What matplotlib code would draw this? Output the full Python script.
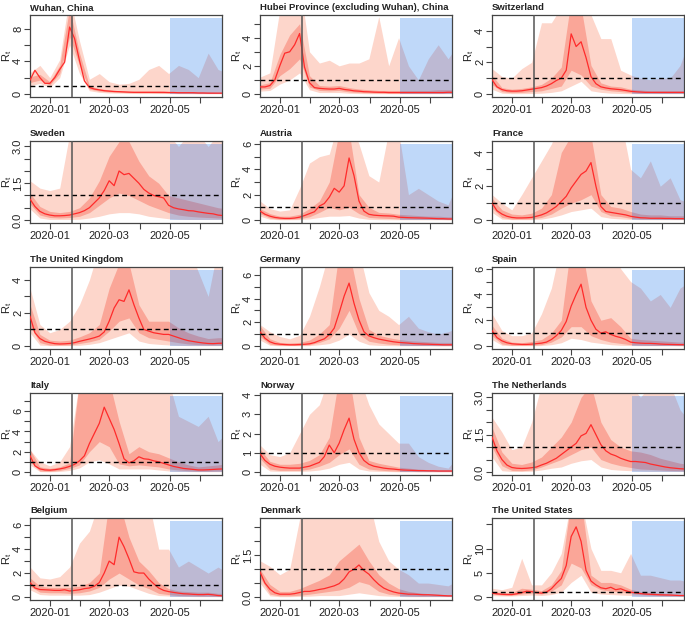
import numpy as np
import pandas as pd
import matplotlib
matplotlib.use('Agg')
import matplotlib.pyplot as plt
import matplotlib.dates as mdates
from matplotlib import font_manager as fm
from matplotlib.patches import Rectangle

# ---------------- font choice ----------------
try:
    fm.findfont(fm.FontProperties(family='Liberation Sans Narrow'), fallback_to_default=False)
    FAMILY = 'Liberation Sans Narrow'
    NARROW = True
except Exception:
    FAMILY = 'Liberation Sans'
    NARROW = False
plt.rcParams['font.family'] = [FAMILY, 'DejaVu Sans']
plt.rcParams['mathtext.fontset'] = 'custom'
plt.rcParams['mathtext.rm'] = FAMILY
plt.rcParams['mathtext.it'] = FAMILY

TICK_FS = 9.4 if NARROW else 8.0
TITLE_FS = 8.0 if NARROW else 6.8
YLAB_FS = 9.0 if NARROW else 8.0

# ---------------- data ----------------
MED_DATES = pd.date_range('2019-12-12', periods=40, freq='5D')
BAND_DATES = pd.date_range('2019-12-12', periods=21, freq='10D')
X_START = pd.Timestamp('2019-12-12')
X_END = pd.Timestamp('2020-06-23')
LOCKDOWN = pd.Timestamp('2020-01-23')
SHADE_START = pd.Timestamp('2020-05-01')
XTICK_DATES = ['2020-01-01', '2020-02-01', '2020-03-01', '2020-04-01', '2020-05-01', '2020-06-01']
XTICK_LABELS = ['2020-01', '', '2020-03', '', '2020-05', '']

TITLES = ['Wuhan, China', 'Hubei Province (excluding Wuhan), China', 'Switzerland',
          'Sweden', 'Austria', 'France',
          'The United Kingdom', 'Germany', 'Spain',
          'Italy', 'Norway', 'The Netherlands',
          'Belgium', 'Denmark', 'The United States']

YMAX = [9.3, 5.4, 4.8, 3.1, 6.0, 4.5, 4.6, 6.4, 5.9, 7.5, 3.95, 3.05, 6.35, 2.73, 15.7]
YTICKS = [[0, 2, 4, 6, 8], [0, 1, 2, 3, 4, 5], [0, 1, 2, 3, 4],
          [0, 0.5, 1, 1.5, 2, 2.5, 3], [0, 1, 2, 3, 4, 5, 6], [0, 1, 2, 3, 4],
          [0, 1, 2, 3, 4], [0, 1, 2, 3, 4, 5, 6], [0, 1, 2, 3, 4, 5, 6],
          [0, 1, 2, 3, 4, 5, 6, 7], [0, 1, 2, 3, 4], [0, 0.5, 1, 1.5, 2, 2.5, 3],
          [0, 1, 2, 3, 4, 5, 6], [0, 0.5, 1, 1.5, 2, 2.5], [0, 5, 10, 15]]
YTICKLABELS = [['0', '', '4', '', '8'], ['0', '', '2', '', '4', ''], ['0', '', '2', '', '4'],
               ['0.0', '', '', '1.5', '', '', '3.0'], ['0', '', '2', '', '4', '', '6'], ['0', '', '2', '', '4'],
               ['0', '', '2', '', '4'], ['0', '', '2', '', '4', '', '6'], ['0', '', '2', '', '4', '', '6'],
               ['0', '', '2', '', '4', '', '6', ''], ['0', '1', '2', '3', '4'], ['0.0', '', '', '1.5', '', '', '3.0'],
               ['0', '', '2', '', '4', '', '6'], ['0.0', '', '', '1.5', '', ''], ['0', '5', '10', '']]

# Wuhan
WUH_MED = [1.7, 2.9, 2.0, 1.3, 1.3, 2.0, 3.0, 3.9, 8.2, 6.8, 4.1, 1.6, 0.8, 0.6, 0.5, 0.4, 0.35, 0.3, 0.28, 0.25,
           0.22, 0.2, 0.2, 0.2, 0.2, 0.2, 0.2, 0.2, 0.18, 0.18, 0.15, 0.15, 0.15, 0.15, 0.12, 0.12, 0.1, 0.1, 0.1, 0.1]
WUH_L50 = [1.4, 1.7, 1.1, 2.5, 7.0, 3.5, 0.6, 0.35, 0.25, 0.2, 0.15, 0.15, 0.15, 0.12, 0.1, 0.1, 0.1, 0.08, 0.07, 0.06, 0.06]
WUH_H50 = [2.1, 2.4, 1.5, 3.5, 10.5, 5.0, 1.0, 0.65, 0.5, 0.4, 0.35, 0.35, 0.35, 0.35, 0.3, 0.3, 0.3, 0.25, 0.25, 0.2, 0.2]
WUH_L95 = [1.0, 1.3, 0.8, 2.0, 6.0, 2.5, 0.4, 0.2, 0.12, 0.1, 0.08, 0.05, 0.05, 0.05, 0.05, 0.03, 0.03, 0.02, 0.02, 0.02, 0.02]
WUH_H95 = [2.6, 3.5, 2.0, 4.2, 12.0, 6.5, 1.8, 2.5, 1.5, 1.2, 1.3, 1.8, 3.0, 3.5, 2.5, 3.5, 3.0, 2.0, 5.0, 3.0, 2.5]
# Hubei
HUB_MED = [0.5, 0.5, 0.6, 1.0, 2.0, 2.9, 3.0, 3.5, 4.3, 1.9, 0.8, 0.45, 0.4, 0.37, 0.35, 0.35, 0.4, 0.32, 0.28, 0.22,
           0.2, 0.16, 0.15, 0.13, 0.12, 0.12, 0.1, 0.1, 0.1, 0.1, 0.1, 0.1, 0.1, 0.1, 0.1, 0.1, 0.1, 0.1, 0.12, 0.12]
HUB_L50 = [0.35, 0.4, 1.3, 1.8, 2.5, 0.5, 0.25, 0.22, 0.25, 0.15, 0.1, 0.08, 0.06, 0.05, 0.05, 0.05, 0.05, 0.05, 0.05, 0.05, 0.05]
HUB_H50 = [0.65, 0.8, 2.8, 4.2, 5.0, 1.3, 0.6, 0.55, 0.6, 0.45, 0.35, 0.3, 0.25, 0.25, 0.25, 0.25, 0.25, 0.25, 0.3, 0.3, 0.3]
HUB_L95 = [0.2, 0.25, 0.7, 1.0, 1.5, 0.3, 0.1, 0.1, 0.1, 0.05, 0.03, 0.02, 0.02, 0.02, 0.02, 0.02, 0.02, 0.02, 0.02, 0.02, 0.02]
HUB_H95 = [1.2, 1.5, 6.0, 8.0, 8.0, 3.0, 2.2, 2.4, 2.0, 2.2, 2.2, 2.5, 5.5, 2.0, 4.0, 2.0, 1.0, 2.5, 3.5, 2.5, 3.5]
# Switzerland
SUI_MED = [0.9, 0.45, 0.28, 0.2, 0.18, 0.18, 0.2, 0.25, 0.3, 0.35, 0.4, 0.5, 0.65, 0.85, 1.0, 1.5, 3.8, 3.0, 3.3, 2.3,
           1.1, 0.65, 0.45, 0.38, 0.33, 0.3, 0.27, 0.22, 0.17, 0.14, 0.12, 0.1, 0.1, 0.1, 0.1, 0.1, 0.1, 0.1, 0.1, 0.1]
SUI_L50 = [0.6, 0.15, 0.08, 0.1, 0.15, 0.2, 0.35, 0.5, 1.5, 1.2, 0.5, 0.3, 0.2, 0.15, 0.08, 0.05, 0.05, 0.04, 0.04, 0.04, 0.04]
SUI_H50 = [1.2, 0.4, 0.3, 0.35, 0.45, 0.6, 1.0, 1.7, 6.0, 5.5, 1.8, 0.7, 0.5, 0.45, 0.3, 0.25, 0.2, 0.2, 0.2, 0.2, 0.2]
SUI_L95 = [0.3, 0.05, 0.02, 0.02, 0.03, 0.05, 0.1, 0.2, 0.5, 0.8, 0.2, 0.1, 0.05, 0.03, 0.02, 0.02, 0.02, 0.02, 0.02, 0.02, 0.02]
SUI_H95 = [1.6, 1.1, 1.0, 1.6, 2.0, 4.5, 4.5, 5.5, 8.0, 8.0, 5.0, 3.5, 3.5, 1.5, 1.2, 1.0, 0.9, 1.0, 1.0, 1.8, 3.5]
# Sweden
SWE_MED = [0.85, 0.55, 0.35, 0.25, 0.2, 0.17, 0.17, 0.18, 0.2, 0.25, 0.3, 0.38, 0.5, 0.7, 0.9, 1.2, 1.6, 1.4, 2.0, 1.85,
           1.9, 1.7, 1.5, 1.25, 1.1, 1.0, 0.95, 0.9, 0.6, 0.5, 0.45, 0.42, 0.38, 0.37, 0.33, 0.3, 0.27, 0.25, 0.2, 0.18]
SWE_L50 = [0.65, 0.2, 0.1, 0.08, 0.1, 0.15, 0.3, 0.6, 0.9, 1.1, 1.0, 0.8, 0.6, 0.45, 0.3, 0.2, 0.15, 0.12, 0.1, 0.08, 0.08]
SWE_H50 = [1.1, 0.55, 0.35, 0.3, 0.35, 0.5, 0.9, 1.6, 2.6, 3.2, 3.2, 2.4, 1.8, 1.5, 1.0, 0.9, 0.8, 0.7, 0.6, 0.5, 0.45]
SWE_L95 = [0.45, 0.08, 0.02, 0.02, 0.02, 0.03, 0.08, 0.15, 0.25, 0.3, 0.3, 0.25, 0.15, 0.1, 0.05, 0.03, 0.02, 0.02, 0.02, 0.02, 0.02]
SWE_H95 = [1.6, 1.3, 1.2, 1.3, 3.5, 4.0, 4.0, 4.0, 4.0, 4.0, 4.0, 4.0, 3.5, 3.5, 3.5, 3.0, 3.5, 3.5, 3.0, 3.5, 3.5]
# Austria
AUT_MED = [0.7, 0.45, 0.3, 0.2, 0.15, 0.12, 0.12, 0.15, 0.22, 0.35, 0.5, 0.65, 1.1, 1.3, 1.8, 2.5, 2.2, 2.7, 4.9, 3.5,
           1.5, 0.7, 0.45, 0.38, 0.35, 0.33, 0.32, 0.3, 0.22, 0.2, 0.18, 0.17, 0.16, 0.15, 0.14, 0.12, 0.1, 0.1, 0.08, 0.08]
AUT_L50 = [0.5, 0.15, 0.05, 0.05, 0.1, 0.25, 0.6, 1.0, 0.8, 1.0, 0.5, 0.2, 0.15, 0.12, 0.08, 0.07, 0.06, 0.05, 0.04, 0.03, 0.03]
AUT_H50 = [0.9, 0.5, 0.3, 0.3, 0.45, 0.9, 1.5, 3.0, 7.0, 7.0, 2.0, 1.0, 0.6, 0.55, 0.45, 0.4, 0.35, 0.3, 0.3, 0.25, 0.25]
AUT_L95 = [0.3, 0.05, 0.02, 0.02, 0.03, 0.08, 0.2, 0.3, 0.3, 0.35, 0.15, 0.05, 0.03, 0.02, 0.02, 0.02, 0.02, 0.02, 0.02, 0.02, 0.02]
AUT_H95 = [1.5, 0.9, 0.7, 0.8, 2.5, 4.5, 5.0, 5.2, 8.0, 8.0, 6.0, 3.5, 3.0, 7.0, 7.0, 2.0, 2.5, 2.0, 1.5, 1.2, 3.0]
# France
FRA_MED = [1.0, 0.55, 0.35, 0.22, 0.15, 0.12, 0.12, 0.13, 0.15, 0.22, 0.3, 0.42, 0.6, 0.8, 1.1, 1.4, 1.9, 2.3, 2.7, 2.9,
           3.4, 2.0, 0.8, 0.5, 0.45, 0.4, 0.35, 0.3, 0.22, 0.17, 0.13, 0.12, 0.1, 0.1, 0.1, 0.09, 0.09, 0.08, 0.08, 0.08]
FRA_L50 = [0.7, 0.15, 0.05, 0.05, 0.06, 0.15, 0.35, 0.7, 1.0, 1.2, 1.5, 0.5, 0.25, 0.2, 0.1, 0.06, 0.05, 0.04, 0.04, 0.03, 0.03]
FRA_H50 = [1.3, 0.6, 0.35, 0.3, 0.4, 0.7, 1.5, 4.0, 5.0, 5.0, 5.0, 1.5, 0.8, 0.7, 0.5, 0.35, 0.3, 0.3, 0.25, 0.25, 0.25]
FRA_L95 = [0.45, 0.05, 0.02, 0.02, 0.02, 0.05, 0.15, 0.3, 0.5, 0.6, 0.7, 0.2, 0.1, 0.06, 0.03, 0.02, 0.02, 0.02, 0.02, 0.02, 0.02]
FRA_H95 = [1.5, 1.0, 0.6, 1.5, 2.5, 3.5, 4.5, 6.0, 6.0, 6.0, 6.0, 6.0, 6.0, 6.0, 3.0, 2.5, 3.5, 2.0, 2.5, 1.2, 1.0]
# United Kingdom
GBR_MED = [1.8, 0.8, 0.45, 0.28, 0.2, 0.14, 0.12, 0.13, 0.15, 0.2, 0.28, 0.35, 0.42, 0.5, 0.6, 0.85, 1.5, 2.3, 2.8, 2.7,
           3.4, 2.5, 1.7, 1.0, 0.9, 0.8, 0.75, 0.7, 0.7, 0.6, 0.5, 0.4, 0.32, 0.27, 0.22, 0.18, 0.15, 0.14, 0.16, 0.17]
GBR_L50 = [1.2, 0.2, 0.05, 0.05, 0.06, 0.15, 0.25, 0.4, 0.9, 1.5, 1.7, 0.8, 0.5, 0.4, 0.3, 0.2, 0.12, 0.08, 0.06, 0.06, 0.06]
GBR_H50 = [2.5, 0.7, 0.35, 0.3, 0.35, 0.55, 0.8, 1.3, 3.5, 5.0, 5.0, 2.5, 1.5, 1.5, 1.5, 1.1, 0.8, 0.6, 0.45, 0.5, 0.5]
GBR_L95 = [0.8, 0.05, 0.02, 0.02, 0.02, 0.04, 0.1, 0.2, 0.4, 0.6, 0.8, 0.3, 0.15, 0.1, 0.06, 0.04, 0.02, 0.02, 0.02, 0.02, 0.02]
GBR_H95 = [3.5, 1.3, 0.8, 1.0, 1.5, 2.5, 4.0, 6.0, 6.0, 6.0, 6.0, 6.0, 6.0, 6.0, 6.0, 5.0, 6.0, 4.5, 3.0, 6.0, 5.0]
# Germany
GER_MED = [1.2, 0.65, 0.35, 0.2, 0.15, 0.12, 0.1, 0.1, 0.12, 0.14, 0.18, 0.28, 0.45, 0.6, 0.95, 1.5, 2.8, 4.2, 5.3, 3.6,
           2.2, 1.2, 0.85, 0.7, 0.58, 0.5, 0.42, 0.35, 0.3, 0.27, 0.24, 0.2, 0.18, 0.16, 0.15, 0.13, 0.12, 0.1, 0.1, 0.1]
GER_L50 = [0.8, 0.15, 0.05, 0.04, 0.05, 0.1, 0.3, 0.6, 1.5, 3.0, 1.0, 0.4, 0.25, 0.15, 0.1, 0.07, 0.05, 0.04, 0.03, 0.03, 0.03]
GER_H50 = [1.7, 0.6, 0.3, 0.25, 0.3, 0.5, 1.0, 1.8, 8.0, 8.0, 4.0, 1.4, 0.9, 0.7, 0.55, 0.45, 0.4, 0.35, 0.3, 0.3, 0.3]
GER_L95 = [0.5, 0.05, 0.02, 0.02, 0.02, 0.03, 0.1, 0.2, 0.5, 1.0, 0.4, 0.1, 0.05, 0.03, 0.02, 0.02, 0.02, 0.02, 0.02, 0.02, 0.02]
GER_H95 = [1.8, 1.2, 0.8, 0.6, 0.9, 2.5, 5.0, 8.0, 8.0, 8.0, 8.0, 4.5, 3.0, 2.5, 1.8, 2.5, 1.5, 1.2, 1.0, 1.2, 1.5]
# Spain
ESP_MED = [1.2, 0.65, 0.4, 0.25, 0.17, 0.14, 0.12, 0.12, 0.14, 0.18, 0.22, 0.3, 0.5, 0.8, 1.2, 1.9, 3.1, 4.0, 4.8, 3.0,
           2.0, 1.3, 1.0, 1.1, 0.9, 0.75, 0.65, 0.5, 0.3, 0.25, 0.22, 0.2, 0.2, 0.18, 0.15, 0.13, 0.12, 0.11, 0.1, 0.1]
ESP_L50 = [0.8, 0.15, 0.05, 0.04, 0.05, 0.1, 0.3, 0.7, 1.5, 1.5, 0.8, 0.5, 0.3, 0.2, 0.1, 0.07, 0.05, 0.04, 0.04, 0.03, 0.03]
ESP_H50 = [1.6, 0.6, 0.3, 0.25, 0.35, 0.5, 1.0, 2.0, 8.0, 8.0, 3.5, 2.0, 2.2, 1.5, 0.6, 0.5, 0.45, 0.4, 0.35, 0.3, 0.3]
ESP_L95 = [0.5, 0.05, 0.02, 0.02, 0.02, 0.03, 0.1, 0.25, 0.6, 0.5, 0.3, 0.2, 0.1, 0.05, 0.03, 0.02, 0.02, 0.02, 0.02, 0.02, 0.02]
ESP_H95 = [2.5, 1.2, 0.8, 0.8, 1.0, 2.5, 4.5, 8.0, 8.0, 8.0, 8.0, 8.0, 8.0, 6.0, 5.0, 4.5, 3.5, 4.0, 3.0, 4.5, 5.0]
# Italy
ITA_MED = [1.6, 0.6, 0.3, 0.2, 0.18, 0.22, 0.3, 0.4, 0.55, 0.75, 1.1, 1.6, 2.8, 3.8, 4.8, 6.4, 5.3, 4.2, 2.8, 1.3,
           0.9, 1.1, 1.5, 1.3, 1.25, 1.1, 1.0, 0.85, 0.7, 0.55, 0.45, 0.35, 0.3, 0.25, 0.2, 0.2, 0.22, 0.25, 0.28, 0.3]
ITA_L50 = [1.0, 0.1, 0.06, 0.15, 0.35, 0.7, 2.0, 3.0, 2.5, 0.8, 0.6, 0.7, 0.6, 0.5, 0.3, 0.2, 0.12, 0.08, 0.08, 0.1, 0.1]
ITA_H50 = [2.2, 0.5, 0.35, 0.5, 0.9, 9.0, 9.0, 9.0, 9.0, 5.0, 1.8, 2.5, 2.0, 1.8, 1.4, 1.0, 0.7, 0.5, 0.6, 0.7, 0.8]
ITA_L95 = [0.7, 0.03, 0.02, 0.05, 0.15, 0.4, 1.0, 1.2, 0.8, 0.3, 0.3, 0.3, 0.3, 0.2, 0.1, 0.06, 0.04, 0.03, 0.03, 0.03, 0.03]
ITA_H95 = [2.2, 1.0, 0.6, 1.0, 2.5, 9.0, 9.0, 9.0, 9.0, 9.0, 9.0, 9.0, 9.0, 9.0, 9.0, 5.5, 5.0, 4.5, 5.5, 3.0, 4.0]
# Norway
NOR_MED = [0.95, 0.6, 0.4, 0.3, 0.25, 0.22, 0.2, 0.2, 0.2, 0.25, 0.3, 0.4, 0.5, 0.8, 1.4, 1.0, 1.5, 2.2, 2.8, 1.7,
           1.0, 0.6, 0.4, 0.3, 0.25, 0.2, 0.17, 0.15, 0.12, 0.1, 0.09, 0.08, 0.07, 0.07, 0.06, 0.06, 0.05, 0.05, 0.05, 0.05]
NOR_L50 = [0.7, 0.15, 0.08, 0.08, 0.08, 0.15, 0.3, 0.5, 0.9, 1.2, 0.4, 0.15, 0.1, 0.06, 0.04, 0.03, 0.02, 0.02, 0.02, 0.02, 0.02]
NOR_H50 = [1.2, 0.55, 0.4, 0.4, 0.45, 0.6, 0.9, 1.8, 5.0, 5.0, 1.8, 0.6, 0.45, 0.35, 0.25, 0.2, 0.15, 0.12, 0.1, 0.1, 0.1]
NOR_L95 = [0.4, 0.05, 0.03, 0.03, 0.03, 0.05, 0.1, 0.2, 0.4, 0.5, 0.15, 0.05, 0.03, 0.02, 0.01, 0.01, 0.01, 0.01, 0.01, 0.01, 0.01]
NOR_H95 = [1.4, 0.9, 0.8, 1.0, 2.0, 3.0, 3.5, 5.0, 5.0, 5.0, 5.0, 3.5, 2.5, 2.0, 1.5, 1.5, 0.8, 0.5, 0.3, 0.2, 0.8]
# Netherlands
NLD_MED = [1.4, 0.85, 0.5, 0.28, 0.18, 0.15, 0.14, 0.15, 0.17, 0.2, 0.28, 0.35, 0.45, 0.55, 0.7, 0.85, 1.0, 1.15, 1.45, 1.55,
           1.9, 1.5, 1.1, 0.85, 0.72, 0.65, 0.55, 0.48, 0.42, 0.42, 0.4, 0.38, 0.32, 0.28, 0.24, 0.2, 0.17, 0.15, 0.13, 0.12]
NLD_L50 = [1.0, 0.25, 0.06, 0.05, 0.08, 0.2, 0.35, 0.5, 0.7, 0.9, 1.0, 0.5, 0.35, 0.25, 0.18, 0.12, 0.1, 0.08, 0.06, 0.05, 0.05]
NLD_H50 = [1.8, 0.8, 0.35, 0.3, 0.4, 0.6, 1.0, 1.4, 2.0, 3.0, 3.5, 2.0, 1.3, 1.0, 0.85, 0.8, 0.7, 0.55, 0.45, 0.35, 0.3]
NLD_L95 = [0.6, 0.05, 0.02, 0.02, 0.03, 0.08, 0.15, 0.2, 0.35, 0.45, 0.5, 0.2, 0.1, 0.07, 0.05, 0.04, 0.03, 0.03, 0.02, 0.02, 0.02]
NLD_H95 = [2.2, 1.6, 0.9, 1.0, 2.0, 3.5, 3.5, 3.5, 3.5, 3.5, 3.5, 3.5, 3.5, 3.5, 3.5, 3.0, 3.5, 3.5, 3.5, 2.5, 2.0]
# Belgium
BEL_MED = [1.2, 0.75, 0.62, 0.6, 0.58, 0.55, 0.55, 0.6, 0.5, 0.55, 0.6, 0.7, 0.75, 0.9, 1.2, 2.0, 3.0, 2.7, 5.0, 4.2,
           3.2, 2.1, 2.0, 2.0, 1.5, 1.1, 0.75, 0.55, 0.45, 0.38, 0.32, 0.27, 0.25, 0.22, 0.2, 0.2, 0.22, 0.18, 0.12, 0.1]
BEL_L50 = [0.9, 0.4, 0.35, 0.35, 0.3, 0.35, 0.5, 0.8, 1.5, 2.0, 1.5, 1.0, 0.7, 0.3, 0.2, 0.12, 0.1, 0.08, 0.07, 0.05, 0.05]
BEL_H50 = [1.6, 0.9, 0.8, 0.8, 0.8, 0.9, 1.2, 2.0, 8.0, 8.0, 5.0, 3.0, 2.2, 1.2, 0.7, 0.5, 0.45, 0.4, 0.4, 0.3, 0.3]
BEL_L95 = [0.6, 0.2, 0.15, 0.15, 0.15, 0.15, 0.2, 0.4, 0.7, 1.0, 0.9, 0.6, 0.3, 0.12, 0.08, 0.05, 0.04, 0.03, 0.03, 0.02, 0.02]
BEL_H95 = [2.5, 1.6, 1.5, 1.7, 2.5, 4.5, 5.5, 8.0, 8.0, 8.0, 8.0, 8.0, 8.0, 4.0, 4.0, 2.5, 3.0, 2.5, 2.0, 2.5, 2.0]
# Denmark
DNK_MED = [0.9, 0.5, 0.28, 0.15, 0.1, 0.1, 0.1, 0.12, 0.16, 0.2, 0.2, 0.23, 0.27, 0.3, 0.35, 0.4, 0.48, 0.65, 0.9, 1.0,
           1.15, 0.95, 0.82, 0.62, 0.45, 0.32, 0.24, 0.18, 0.14, 0.12, 0.1, 0.1, 0.09, 0.08, 0.08, 0.07, 0.06, 0.05, 0.04, 0.04]
DNK_L50 = [0.7, 0.1, 0.04, 0.04, 0.06, 0.1, 0.15, 0.2, 0.25, 0.35, 0.55, 0.45, 0.2, 0.1, 0.06, 0.04, 0.03, 0.03, 0.02, 0.02, 0.02]
DNK_H50 = [1.0, 0.45, 0.2, 0.2, 0.3, 0.45, 0.6, 0.8, 1.3, 1.6, 1.9, 1.3, 0.8, 0.5, 0.3, 0.2, 0.15, 0.12, 0.1, 0.08, 0.08]
DNK_L95 = [0.5, 0.04, 0.01, 0.01, 0.02, 0.03, 0.05, 0.05, 0.05, 0.1, 0.15, 0.1, 0.05, 0.03, 0.02, 0.01, 0.01, 0.01, 0.01, 0.01, 0.01]
DNK_H95 = [1.3, 1.1, 0.8, 1.0, 2.8, 3.5, 3.5, 3.5, 3.5, 3.5, 3.5, 3.5, 2.0, 1.3, 1.0, 0.8, 0.5, 0.5, 0.45, 0.4, 0.6]
# United States
USA_MED = [0.8, 0.65, 0.55, 0.5, 0.5, 0.65, 0.9, 1.2, 1.1, 0.9, 0.8, 1.0, 1.7, 2.8, 3.8, 6.5, 12.5, 14.5, 11.5, 5.5,
           3.3, 2.5, 1.9, 1.7, 2.0, 1.5, 1.7, 1.3, 1.0, 0.85, 0.7, 0.6, 0.55, 0.5, 0.45, 0.42, 0.4, 0.35, 0.3, 0.3]
USA_L50 = [0.6, 0.4, 0.35, 0.6, 0.8, 0.6, 1.2, 2.5, 7.0, 6.0, 2.5, 1.5, 1.2, 1.1, 0.7, 0.5, 0.35, 0.3, 0.25, 0.2, 0.2]
USA_H50 = [1.1, 0.9, 0.9, 1.8, 1.6, 1.3, 2.5, 5.5, 20.0, 20.0, 4.5, 3.0, 3.0, 2.5, 1.6, 1.1, 0.9, 0.8, 0.6, 0.5, 0.5]
USA_L95 = [0.3, 0.2, 0.2, 0.3, 0.4, 0.3, 0.5, 1.0, 3.0, 4.5, 1.0, 0.6, 0.5, 0.4, 0.3, 0.2, 0.15, 0.1, 0.1, 0.08, 0.08]
USA_H95 = [1.8, 1.5, 2.0, 8.0, 2.5, 2.5, 5.0, 9.0, 20.0, 20.0, 10.0, 5.5, 5.5, 5.0, 9.0, 4.5, 4.5, 4.0, 3.5, 3.5, 3.0]

MED = [WUH_MED, HUB_MED, SUI_MED, SWE_MED, AUT_MED, FRA_MED, GBR_MED, GER_MED, ESP_MED,
       ITA_MED, NOR_MED, NLD_MED, BEL_MED, DNK_MED, USA_MED]
L50 = [WUH_L50, HUB_L50, SUI_L50, SWE_L50, AUT_L50, FRA_L50, GBR_L50, GER_L50, ESP_L50,
       ITA_L50, NOR_L50, NLD_L50, BEL_L50, DNK_L50, USA_L50]
H50 = [WUH_H50, HUB_H50, SUI_H50, SWE_H50, AUT_H50, FRA_H50, GBR_H50, GER_H50, ESP_H50,
       ITA_H50, NOR_H50, NLD_H50, BEL_H50, DNK_H50, USA_H50]
L95 = [WUH_L95, HUB_L95, SUI_L95, SWE_L95, AUT_L95, FRA_L95, GBR_L95, GER_L95, ESP_L95,
       ITA_L95, NOR_L95, NLD_L95, BEL_L95, DNK_L95, USA_L95]
H95 = [WUH_H95, HUB_H95, SUI_H95, SWE_H95, AUT_H95, FRA_H95, GBR_H95, GER_H95, ESP_H95,
       ITA_H95, NOR_H95, NLD_H95, BEL_H95, DNK_H95, USA_H95]

# ---------------- style ----------------
LIGHT = '#FDD6CB'
DARK = '#FAA698'
RED = '#FF2B2B'
BLUE = (0.0, 0.40, 0.92, 0.25)
AXC = '#444444'

W, H = 685, 622
COL_LEFT = [30, 260, 492]
ROW_TOP = [15, 141, 267, 393, 518]
AX_W, AX_H = 192, 82

fig = plt.figure(figsize=(W / 100, H / 100), dpi=100)

shade_x0 = mdates.date2num(SHADE_START)
shade_x1 = mdates.date2num(X_END)

for i in range(15):
    r, c = divmod(i, 3)
    ax = fig.add_axes([COL_LEFT[c] / W, 1 - (ROW_TOP[r] + AX_H) / H, AX_W / W, AX_H / H])
    ymax = YMAX[i]
    ax.fill_between(BAND_DATES, L95[i], H95[i], color=LIGHT, lw=0, zorder=1)
    ax.fill_between(BAND_DATES, L50[i], H50[i], color=DARK, lw=0, zorder=2)
    ax.add_patch(Rectangle((shade_x0, 0), shade_x1 - shade_x0, ymax,
                           facecolor=BLUE, edgecolor='none', zorder=3))
    ax.plot(MED_DATES, MED[i], color=RED, lw=0.9, zorder=4)
    ax.axhline(1, color='black', lw=1.0, dashes=(3.5, 2.5), zorder=5)
    ax.axvline(LOCKDOWN, color='#555555', lw=1.1, zorder=5)

    ax.set_xlim(X_START, X_END)
    ax.set_ylim(-0.04 * ymax, 1.04 * ymax)

    ax.set_xticks(pd.to_datetime(XTICK_DATES))
    ax.set_xticklabels(XTICK_LABELS)
    ax.set_yticks(YTICKS[i])
    ax.set_yticklabels(YTICKLABELS[i], rotation=90, va='center')

    ax.tick_params(direction='out', length=4, width=0.8, color=AXC,
                   labelsize=TICK_FS, labelcolor='#222222')
    ax.tick_params(axis='x', pad=2)
    ax.tick_params(axis='y', pad=1.0)
    for sp in ax.spines.values():
        sp.set_color(AXC)
        sp.set_linewidth(0.9)

    ax.set_ylabel(r'$\mathregular{R_t}$', fontsize=YLAB_FS, color='#222222')
    ax.yaxis.set_label_coords(-0.082, 0.5)

    ax.text(0, 1 + 5 / AX_H, TITLES[i], transform=ax.transAxes, ha='left', va='baseline',
            fontsize=TITLE_FS, fontweight='bold', color='#222222')

fig.savefig('out.png', dpi=100)
